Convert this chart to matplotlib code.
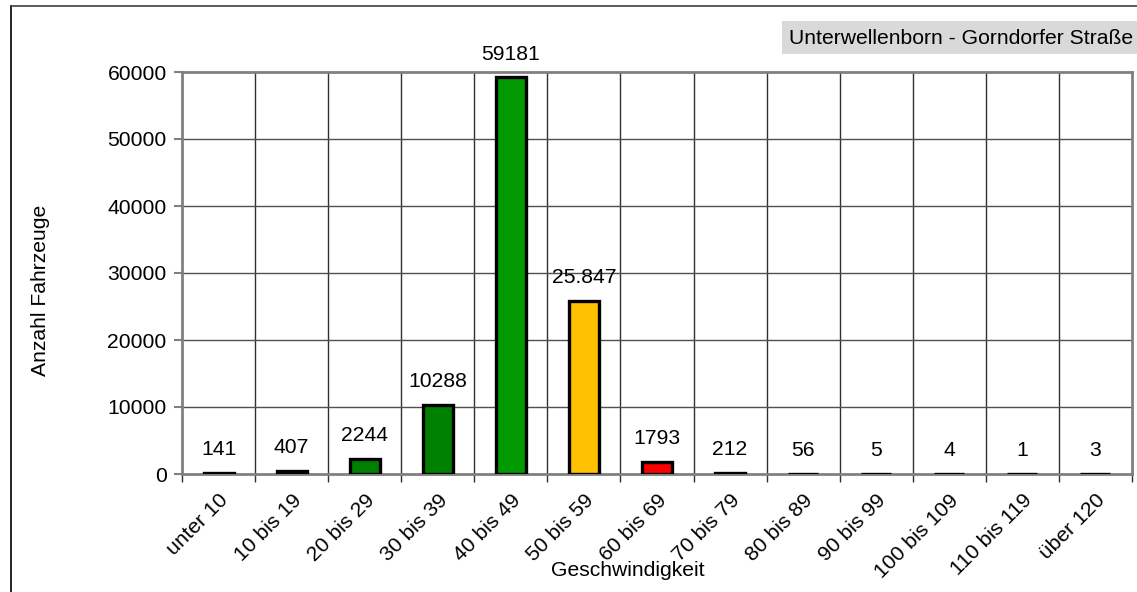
import matplotlib
matplotlib.use("Agg")
import matplotlib.pyplot as plt
from matplotlib.patches import Rectangle

categories = ["unter 10", "10 bis 19", "20 bis 29", "30 bis 39", "40 bis 49", "50 bis 59",
              "60 bis 69", "70 bis 79", "80 bis 89", "90 bis 99", "100 bis 109", "110 bis 119", "über 120"]
values = [141, 407, 2244, 10288, 59181, 25847, 1793, 212, 56, 5, 4, 1, 3]
value_labels = ["141", "407", "2244", "10288", "59181", "25.847", "1793", "212", "56", "5", "4", "1", "3"]
colors = ["#000000", "#000000", "#008000", "#008000", "#009900", "#FFC000",
          "#FF0000", "#000000", "#000000", "#000000", "#000000", "#000000", "#000000"]
y_ticks = [0, 10000, 20000, 30000, 40000, 50000, 60000]
title = "Unterwellenborn - Gorndorfer Straße"
x_title = "Geschwindigkeit"
y_title = "Anzahl Fahrzeuge"

plt.rcParams['font.family'] = ['Liberation Sans', 'DejaVu Sans']
FS = 15.2

W, H = 1137, 592
fig = plt.figure(figsize=(W / 100, H / 100), dpi=100)

# outer frame (top and left visible)
fig.add_artist(plt.Line2D([11 / W, 11 / W], [0, 1 - 6 / H], color="black", lw=1.2))
fig.add_artist(plt.Line2D([11 / W, 1], [1 - 6 / H, 1 - 6 / H], color="#404040", lw=1.2))

left, right, top, bottom = 182, 1132, 72, 474
ax = fig.add_axes([left / W, 1 - bottom / H, (right - left) / W, (bottom - top) / H])

n = len(categories)
xs = list(range(n))
ax.bar(xs, values, width=0.41, color=colors, edgecolor="black", linewidth=2.4, zorder=3)

for x, v, lab in zip(xs, values, value_labels):
    ax.annotate(lab, (x, v), xytext=(0, 10), textcoords="offset points",
                ha="center", va="bottom", fontsize=FS, color="black", zorder=4)

ax.set_xlim(-0.5, n - 0.5)
ax.set_ylim(0, 60000)

# grid
for b in [i - 0.5 for i in range(1, n)]:
    ax.axvline(b, color="#303030", lw=1, zorder=1)
for t in y_ticks[1:-1]:
    ax.axhline(t, color="#505050", lw=1, zorder=1)

for s in ["top", "right", "left", "bottom"]:
    ax.spines[s].set_color("#808080")
    ax.spines[s].set_linewidth(2)

ax.set_yticks(y_ticks)
ax.set_yticklabels([str(t) for t in y_ticks], fontsize=FS)
ax.tick_params(axis="y", direction="out", length=6, width=1.5, color="#808080", pad=5)

ax.set_xticks([i - 0.5 for i in range(n + 1)], minor=False)
ax.set_xticklabels([])
ax.tick_params(axis="x", which="major", direction="out", length=6, width=1, color="#303030")
ax.set_xticks(xs, minor=True)
ax.set_xticklabels(categories, minor=True, rotation=45, ha="right", rotation_mode="anchor", fontsize=FS)
ax.tick_params(axis="x", which="minor", length=0, pad=12)

fig.text(628 / W, 1 - 570 / H, x_title, ha="center", va="center", fontsize=FS)
fig.text(40 / W, 1 - 290 / H, y_title, ha="center", va="center", fontsize=FS, rotation=90)

# title box
fig.add_artist(Rectangle((782 / W, 1 - 54 / H), (W - 782) / W + 0.01, 33 / H,
                         transform=fig.transFigure, facecolor="#D9D9D9", edgecolor="none"))
fig.text(789 / W, 1 - 38 / H, title, ha="left", va="center", fontsize=FS)

fig.savefig("out.png", dpi=100)
